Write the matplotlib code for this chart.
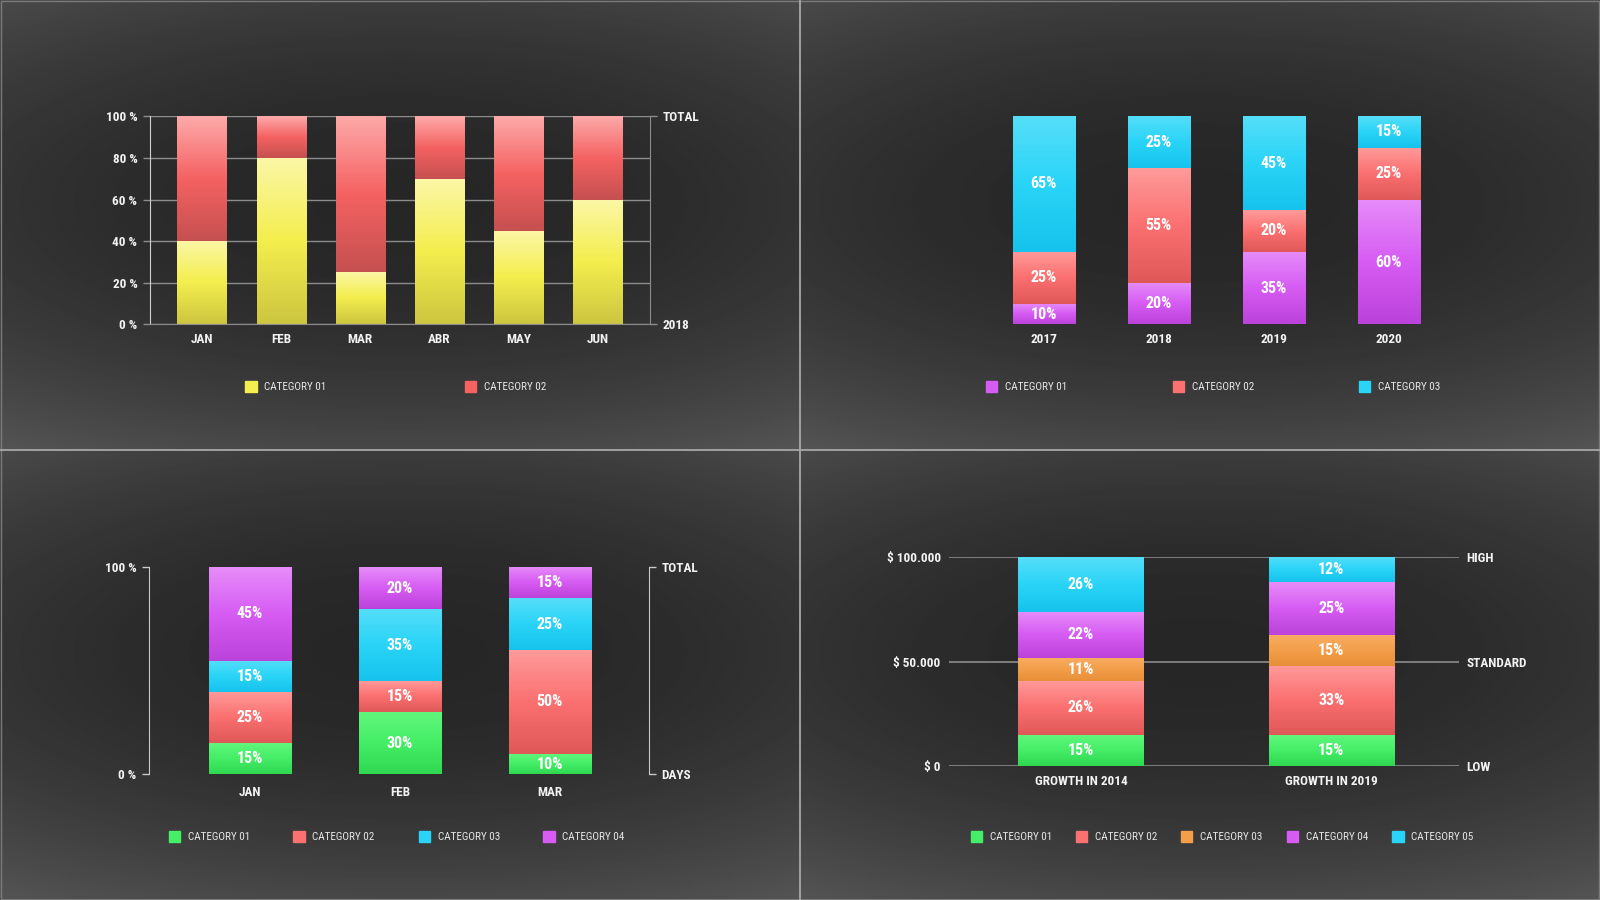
import numpy as np
import matplotlib
matplotlib.use("Agg")
import matplotlib.pyplot as plt
from matplotlib import font_manager
from matplotlib.colors import LinearSegmentedColormap
from matplotlib.patches import Rectangle
from matplotlib.lines import Line2D

# prefer a narrow face if one is installed, otherwise Roboto
installed = {f.name for f in font_manager.fontManager.ttflist}
narrow = [n for n in ['Roboto Condensed', 'Liberation Sans Narrow', 'DejaVu Sans Condensed']
          if n in installed]
plt.rcParams['font.family'] = narrow[:1] + ['Roboto', 'DejaVu Sans']
plt.rcParams['font.stretch'] = 'condensed' if narrow else 'normal'

# ---- data ----
months_1 = ['JAN', 'FEB', 'MAR', 'ABR', 'MAY', 'JUN']
p1_cat01 = [40, 80, 25, 70, 45, 60]
p1_cat02 = [60, 20, 75, 30, 55, 40]

years_2 = ['2017', '2018', '2019', '2020']
p2_cat01 = [10, 20, 35, 60]
p2_cat02 = [25, 55, 20, 25]
p2_cat03 = [65, 25, 45, 15]

months_3 = ['JAN', 'FEB', 'MAR']
p3_cat01 = [15, 30, 10]
p3_cat02 = [25, 15, 50]
p3_cat03 = [15, 35, 25]
p3_cat04 = [45, 20, 15]

groups_4 = ['GROWTH IN 2014', 'GROWTH IN 2019']
p4_cat01 = [15, 15]
p4_cat02 = [26, 33]
p4_cat03 = [11, 15]
p4_cat04 = [22, 25]
p4_cat05 = [26, 12]
p4_total = 100000

# ---- styles ----
W, H = 1568, 882  # layout frame (reference pixels)
YELLOW = ['#cdc640', '#f4ee4e', '#fbf7a6']
RED1 = ['#c65050', '#f56262', '#fda9a9']
RED = ['#df5858', '#fb7070', '#ff9a9a']
CYAN = ['#16c3ec', '#2ad4f7', '#55def9']
PURPLE = ['#bb42da', '#d65cf3', '#e68cf9']
GREEN = ['#30d852', '#45ee66', '#62f67e']
ORANGE = ['#e88e38', '#f39e4a', '#f8ad62']
TXT = '#f2f2f2'
GRID = '#8c8c8c'
tick_fs = 9.5
val_fs = 11.5
leg_fs = 8


def rect(l, t, r, b):
    return [l / W, 1 - b / H, (r - l) / W, (b - t) / H]


def fx(px):
    return px / W


def fy(py):
    return 1 - py / H


def grad_stack(ax, layers, colors, width, labels=False):
    x = np.arange(len(layers[0]))
    bottom = np.zeros(len(x))
    grad = np.linspace(0, 1, 80).reshape(-1, 1)
    for vals, cols in zip(layers, colors):
        vals = np.asarray(vals, dtype=float)
        bars = ax.bar(x, vals, width, bottom=bottom, color='none', linewidth=0, zorder=2)
        cm = LinearSegmentedColormap.from_list('g', cols)
        for b, v in zip(bars, vals):
            x0, y0 = b.get_x(), b.get_y()
            ax.imshow(grad, extent=[x0, x0 + b.get_width(), y0, y0 + b.get_height()],
                      origin='lower', aspect='auto', cmap=cm, zorder=2, interpolation='bilinear')
            if labels:
                ax.text(b.get_x() + b.get_width() / 2, y0 + v / 2, f'{v * 100 / ax._total:.0f}%',
                        ha='center', va='center', color='white', fontsize=val_fs,
                        fontweight='bold', zorder=4)
        bottom += vals


def legend(entries, y):
    for xs, col, lab in entries:
        s = 11
        fig.patches.append(Rectangle((fx(xs - s / 2), fy(y + s / 2)), s / W, s / H,
                                     transform=fig.transFigure, color=col, figure=fig))
        fig.text(fx(xs + 13), fy(y), lab, ha='left', va='center', color='#e6e6e6', fontsize=leg_fs)


fig = plt.figure(figsize=(16, 9), dpi=100)

# ---- background ----
bg = fig.add_axes([0, 0, 1, 1], zorder=-10)
yy, xx = np.mgrid[0:1:450j, 0:1:800j]
tx = (xx * 2) % 1
ty = (yy * 2) % 1
shade = 0.15 + 0.11 * (np.abs(ty - 0.45) * 2) ** 2 + 0.05 * (np.abs(tx - 0.5) * 2) ** 2
bg.imshow(shade, cmap='gray', vmin=0, vmax=1, extent=[0, 1, 0, 1], aspect='auto', interpolation='bilinear')
bg.set_xlim(0, 1)
bg.set_ylim(0, 1)
bg.axis('off')
fig.add_artist(Line2D([0.5, 0.5], [0, 1], color='#a8a8a8', lw=1.3, transform=fig.transFigure))
fig.add_artist(Line2D([0, 1], [0.5, 0.5], color='#a8a8a8', lw=1.3, transform=fig.transFigure))
fig.add_artist(Rectangle((0.0005, 0.0008), 0.999, 0.9985, fill=False, edgecolor='#7a7a7a',
                         lw=1, transform=fig.transFigure))


def style_axis(ax):
    ax.set_facecolor('none')
    for s in ax.spines.values():
        s.set_visible(False)
    ax.tick_params(colors=GRID, labelcolor=TXT, labelsize=tick_fs)
    for lab in ax.get_xticklabels() + ax.get_yticklabels():
        lab.set_fontweight('bold')


# ---- panel 1 ----
ax1 = fig.add_axes(rect(147, 114, 637, 318))
ax1._total = 100
grad_stack(ax1, [p1_cat01, p1_cat02], [YELLOW, RED1], 0.62)
ax1.set_xlim(-0.657, 5.66)
ax1.set_ylim(0, 100)
ax1.set_yticks(np.arange(0, 101, 20))
ax1.set_yticklabels([f'{v} %' for v in range(0, 101, 20)])
ax1.set_xticks(range(len(months_1)))
ax1.set_xticklabels(months_1)
ax1.grid(axis='y', color=GRID, lw=1, zorder=1)
ax1.set_axisbelow(True)
style_axis(ax1)
for side in ['left', 'right', 'bottom']:
    ax1.spines[side].set_visible(True)
    ax1.spines[side].set_color(GRID)
ax1.spines['left'].set_color('#d0d0d0')
ax1.tick_params(axis='y', length=5, width=1, pad=4)
ax1.tick_params(axis='x', length=0, pad=6)
ax1r = ax1.twinx()
ax1r.set_ylim(0, 100)
ax1r.set_yticks([0, 100])
ax1r.set_yticklabels(['2018', 'TOTAL'])
style_axis(ax1r)
ax1r.tick_params(axis='y', length=5, width=1, pad=4)
legend([(246, YELLOW[1], 'CATEGORY 01'), (461, RED1[1], 'CATEGORY 02')], 379)

# ---- panel 2 ----
ax2 = fig.add_axes(rect(960, 114, 1424, 318))
ax2._total = 100
grad_stack(ax2, [p2_cat01, p2_cat02, p2_cat03], [PURPLE, RED, CYAN], 0.54, labels=True)
ax2.set_xlim(-0.559, 3.558)
ax2.set_ylim(0, 100)
ax2.set_yticks([])
ax2.set_xticks(range(len(years_2)))
ax2.set_xticklabels(years_2)
style_axis(ax2)
ax2.tick_params(axis='x', length=0, pad=6)
legend([(972, PURPLE[1], 'CATEGORY 01'), (1155, RED[1], 'CATEGORY 02'),
        (1337, CYAN[1], 'CATEGORY 03')], 379)

# ---- panel 3 ----
ax3 = fig.add_axes(rect(146, 556, 636, 759))
ax3._total = 100
grad_stack(ax3, [p3_cat01, p3_cat02, p3_cat03, p3_cat04], [GREEN, RED, CYAN, PURPLE], 0.55, labels=True)
ax3.set_xlim(-0.673, 2.66)
ax3.set_ylim(0, 100)
ax3.set_yticks([0, 100])
ax3.set_yticklabels(['0 %', '100 %'])
ax3.set_xticks(range(len(months_3)))
ax3.set_xticklabels(months_3)
style_axis(ax3)
ax3.spines['left'].set_visible(True)
ax3.spines['left'].set_color('#c8c8c8')
ax3.tick_params(axis='y', length=5, width=1, pad=4, colors='#c8c8c8', labelcolor=TXT)
ax3.tick_params(axis='x', length=0, pad=8)
ax3r = ax3.twinx()
ax3r.set_ylim(0, 100)
ax3r.set_yticks([0, 100])
ax3r.set_yticklabels(['DAYS', 'TOTAL'])
style_axis(ax3r)
ax3r.spines['right'].set_visible(True)
ax3r.spines['right'].set_color('#c8c8c8')
ax3r.tick_params(axis='y', length=5, width=1, pad=4, colors='#c8c8c8', labelcolor=TXT)
legend([(171, GREEN[1], 'CATEGORY 01'), (293, RED[1], 'CATEGORY 02'),
        (416, CYAN[1], 'CATEGORY 03'), (538, PURPLE[1], 'CATEGORY 04')], 820)

# ---- panel 4 ----
ax4 = fig.add_axes(rect(930, 546, 1430, 751))
ax4._total = p4_total
scale = p4_total / 100
layers4 = [np.array(v) * scale for v in [p4_cat01, p4_cat02, p4_cat03, p4_cat04, p4_cat05]]
grad_stack(ax4, layers4, [GREEN, RED, ORANGE, PURPLE, CYAN], 0.50, labels=True)
ax4.set_xlim(-0.527, 1.51)
ax4.set_ylim(0, p4_total)
ax4.set_yticks([0, 50000, 100000])
ax4.set_yticklabels(['$ 0', '$ 50.000', '$ 100.000'])
ax4.set_xticks(range(len(groups_4)))
ax4.set_xticklabels(groups_4)
ax4.grid(axis='y', color=GRID, lw=1.2, zorder=1)
ax4.set_axisbelow(True)
style_axis(ax4)
ax4.tick_params(axis='y', length=0, pad=6)
ax4.tick_params(axis='x', length=0, pad=6)
ax4r = ax4.twinx()
ax4r.set_ylim(0, p4_total)
ax4r.set_yticks([0, 50000, 100000])
ax4r.set_yticklabels(['LOW', 'STANDARD', 'HIGH'])
style_axis(ax4r)
ax4r.tick_params(axis='y', length=0, pad=5)
legend([(957, GREEN[1], 'CATEGORY 01'), (1060, RED[1], 'CATEGORY 02'),
        (1163, ORANGE[1], 'CATEGORY 03'), (1267, PURPLE[1], 'CATEGORY 04'),
        (1370, CYAN[1], 'CATEGORY 05')], 820)

fig.savefig('out.png', dpi=100)
